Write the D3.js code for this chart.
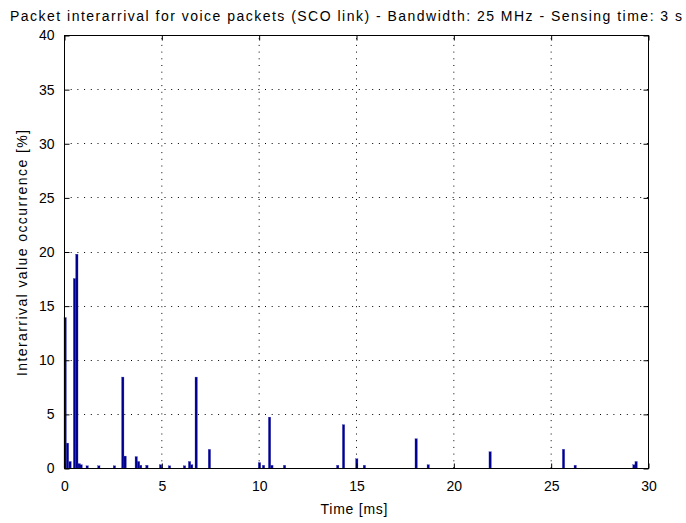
<!DOCTYPE html>
<html><head><meta charset="utf-8">
<script src="https://cdn.jsdelivr.net/npm/d3@7"></script>
<style>body{margin:0;background:#fff}svg{display:block}text{font-family:"Liberation Sans",Arial,sans-serif;fill:#000}</style>
</head><body>
<script>
// Data: bin left edge (ms) and occurrence (%)
const binStart = [0.0,0.12,0.25,0.48,0.6,0.72,0.82,1.13,1.73,2.53,2.96,3.08,3.65,3.77,3.88,4.2,4.9,5.36,6.13,6.39,6.5,6.73,7.41,9.98,10.19,10.5,10.62,11.27,14.0,14.3,14.98,15.37,18.03,18.65,21.83,25.6,26.2,29.22,29.33];
const occurrence = [13.9,2.3,0.6,17.5,19.75,0.4,0.3,0.2,0.2,0.2,8.4,1.1,1.05,0.6,0.25,0.25,0.3,0.2,0.2,0.6,0.3,8.4,1.72,0.5,0.25,4.7,0.25,0.25,0.25,4.0,0.85,0.25,2.7,0.3,1.5,1.73,0.25,0.3,0.6];
const binWidth = 0.12;
const xTicks = [0,5,10,15,20,25,30];
const yTicks = [0,5,10,15,20,25,30,35,40];
const titleText = "Packet interarrival for voice packets (SCO link) - Bandwidth: 25 MHz - Sensing time: 3 s";
const xLabel = "Time [ms]";
const yLabel = "Interarrival value occurrence [%]";

const W = 686, H = 523;
const m = {left:64, right:38, top:35, bottom:55};
const FS = 14;
const svg = d3.select("body").append("svg").attr("width",W).attr("height",H);
const x = d3.scaleLinear().domain([0,30]).range([m.left, W-m.right]);
const y = d3.scaleLinear().domain([0,40]).range([H-m.bottom, m.top]);

// grid
const g = svg.append("g");
g.selectAll(".gx").data(xTicks.slice(1,-1)).enter().append("line")
  .attr("x1",d=>x(d)+0.5).attr("x2",d=>x(d)+0.5).attr("y1",y(0)).attr("y2",y(40))
  .attr("stroke","#000").attr("stroke-width",1).attr("stroke-dasharray","1,5.7");
g.selectAll(".gy").data(yTicks.slice(1,-1)).enter().append("line")
  .attr("y1",d=>Math.round(y(d))+0.5).attr("y2",d=>Math.round(y(d))+0.5).attr("x1",x(0)).attr("x2",x(30))
  .attr("stroke","#000").attr("stroke-width",1).attr("stroke-dasharray","1,5.7");

// bars
svg.append("g").selectAll("rect").data(binStart).enter().append("rect")
  .attr("x",(d)=>x(d)).attr("width",(d)=>Math.max(1.5,x(d+binWidth)-x(d)))
  .attr("y",(d,i)=>y(occurrence[i])).attr("height",(d,i)=>y(0)-y(occurrence[i]))
  .attr("fill","#00008f").attr("stroke","#3030b0").attr("stroke-width",0.3);

// axes box
svg.append("rect").attr("x",x(0)+0.5).attr("y",y(40)+0.5).attr("width",x(30)-x(0)).attr("height",y(0)-y(40))
  .attr("fill","none").attr("stroke","#000").attr("stroke-width",1);

// axes with inward ticks
const xa = d3.axisBottom(x).tickValues(xTicks).tickSizeInner(-5).tickSizeOuter(0).tickPadding(13);
const xg = svg.append("g").attr("transform",`translate(0.5,${y(0)+0.5})`).call(xa);
const xt = svg.append("g").attr("transform",`translate(0.5,${y(40)+0.5})`).call(d3.axisTop(x).tickValues(xTicks).tickSizeInner(-5).tickSizeOuter(0).tickFormat(""));
const ya = d3.axisLeft(y).tickValues(yTicks).tickSizeInner(-5).tickSizeOuter(0).tickPadding(10);
const yg = svg.append("g").attr("transform",`translate(${x(0)+0.5},0.5)`).call(ya);
const yr = svg.append("g").attr("transform",`translate(${x(30)+0.5},0.5)`).call(d3.axisRight(y).tickValues(yTicks).tickSizeInner(-5).tickSizeOuter(0).tickFormat(""));
[xg,xt,yg,yr].forEach(a=>{a.select(".domain").remove(); a.selectAll("line").attr("stroke","#000");});
xg.selectAll("text").attr("font-size",FS).attr("font-family","Liberation Sans, Arial, sans-serif");
yg.selectAll("text").attr("font-size",FS).attr("font-family","Liberation Sans, Arial, sans-serif");

// labels
svg.append("text").attr("x",346).attr("y",21).attr("text-anchor","middle").attr("font-size",FS)
  .attr("textLength",672).attr("lengthAdjust","spacing").text(titleText);
svg.append("text").attr("x",354).attr("y",514).attr("text-anchor","middle").attr("font-size",FS)
  .attr("textLength",67).attr("lengthAdjust","spacing").text(xLabel);
svg.append("text").attr("transform","translate(27,253) rotate(-90)").attr("text-anchor","middle").attr("font-size",FS)
  .attr("textLength",246).attr("lengthAdjust","spacing").text(yLabel);
</script>
</body></html>
